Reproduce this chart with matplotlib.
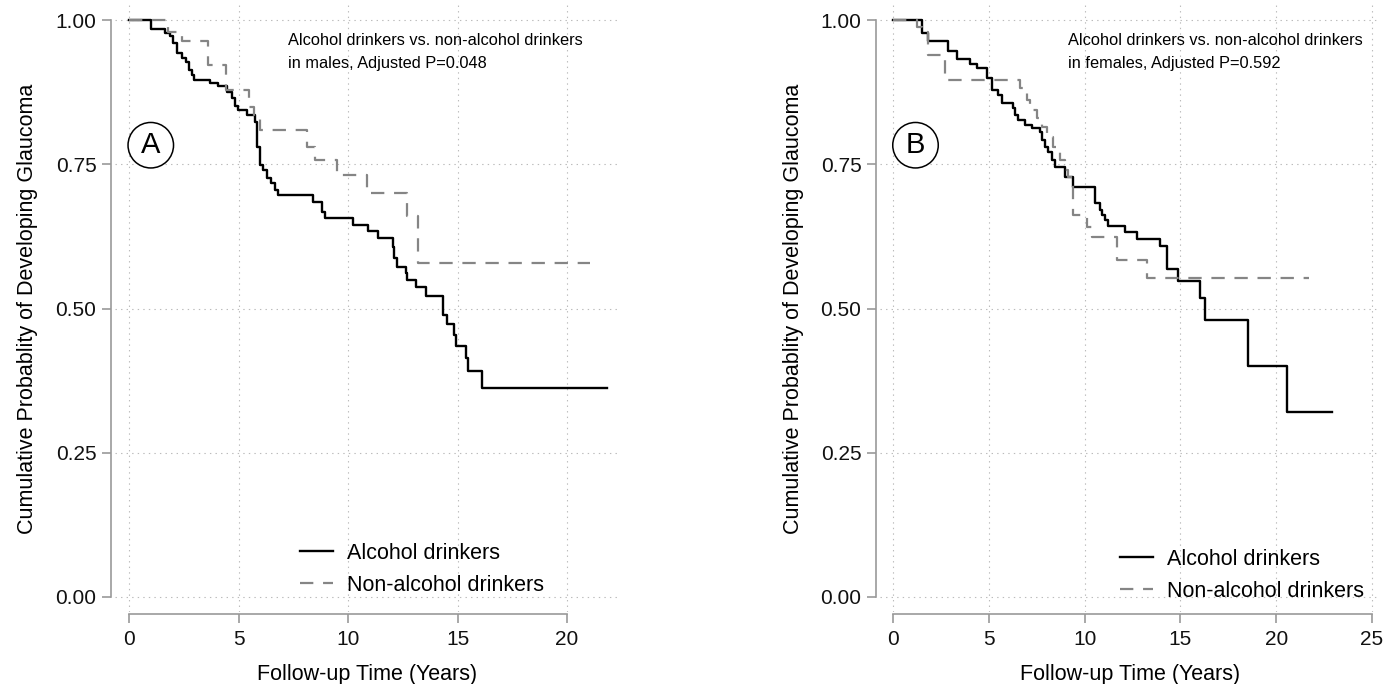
import matplotlib
matplotlib.use("Agg")
import matplotlib.pyplot as plt

plt.rcParams['font.family'] = ['Liberation Sans', 'DejaVu Sans']
plt.rcParams['lines.scale_dashes'] = False

W, H = 1386, 684

# Panel A - males
a_alc_t = [0, 0.99, 1.64, 1.87, 2.0, 2.18, 2.4, 2.6, 2.75, 2.86, 2.98, 3.7, 4.08,
           4.46, 4.69, 4.84, 4.99, 5.37, 5.75, 5.83, 5.98, 6.13, 6.29, 6.47, 6.67,
           6.82, 8.42, 8.8, 8.95, 10.24, 10.93, 11.38, 12.04, 12.1, 12.22, 12.65,
           12.7, 13.1, 13.55, 14.32, 14.5, 14.84, 14.93, 15.39, 15.46, 16.1, 21.8]
a_alc_s = [1.0, 0.984, 0.977, 0.972, 0.960, 0.942, 0.934, 0.928, 0.913, 0.905, 0.896,
           0.891, 0.886, 0.876, 0.865, 0.851, 0.844, 0.835, 0.824, 0.78, 0.749, 0.74,
           0.726, 0.717, 0.705, 0.697, 0.685, 0.668, 0.656, 0.645, 0.634, 0.622,
           0.607, 0.587, 0.572, 0.561, 0.549, 0.538, 0.522, 0.489, 0.473, 0.454,
           0.435, 0.414, 0.392, 0.363, 0.363]
a_non_t = [0, 1.8, 2.4, 3.62, 4.43, 5.5, 5.7, 6.0, 8.11, 8.5, 9.48, 10.85, 12.7, 13.2, 21.05]
a_non_s = [1.0, 0.98, 0.963, 0.922, 0.879, 0.85, 0.83, 0.809, 0.78, 0.757, 0.731,
           0.70, 0.66, 0.578, 0.578]

# Panel B - females
b_alc_t = [0, 1.5, 1.84, 2.89, 3.32, 4.02, 4.37, 4.89, 5.15, 5.5, 5.67, 6.28, 6.37,
           6.5, 6.89, 7.24, 7.67, 7.8, 7.93, 8.11, 8.28, 8.46, 8.98, 9.41, 10.54,
           10.8, 10.9, 11.07, 11.24, 12.1, 12.72, 13.94, 14.29, 14.9, 16.03, 16.3,
           18.55, 20.55, 22.9]
b_alc_s = [1.0, 0.977, 0.963, 0.946, 0.933, 0.924, 0.916, 0.899, 0.879, 0.87, 0.856,
           0.847, 0.835, 0.827, 0.818, 0.812, 0.806, 0.792, 0.78, 0.772, 0.757, 0.746,
           0.728, 0.711, 0.682, 0.671, 0.662, 0.653, 0.643, 0.633, 0.621, 0.608,
           0.568, 0.548, 0.518, 0.48, 0.40, 0.32, 0.32]
b_non_t = [0, 1.24, 1.5, 1.84, 2.71, 6.63, 6.98, 7.15, 7.5, 7.76, 8.02, 8.37, 8.72,
           8.98, 9.15, 9.41, 10.11, 10.4, 11.67, 13.24, 21.7]
b_non_s = [1.0, 0.988, 0.98, 0.939, 0.896, 0.882, 0.861, 0.844, 0.83, 0.815, 0.798,
           0.78, 0.757, 0.74, 0.728, 0.662, 0.642, 0.624, 0.584, 0.552, 0.552]

y_ticks = [0, 0.25, 0.5, 0.75, 1.0]
a_x_ticks = [0, 5, 10, 15, 20]
b_x_ticks = [0, 5, 10, 15, 20, 25]
labels = ['Alcohol drinkers', 'Non-alcohol drinkers']

GRAY = '#999999'


def draw_panel(ax, alc_t, alc_s, non_t, non_s, xticks, xlim, letter, line1, line2, leg_xy):
    ax.step(alc_t, alc_s, where='post', color='black', lw=1.7, label=labels[0])
    ax.step(non_t, non_s, where='post', color='#858585', lw=1.6,
            dashes=(9.6, 7.0), label=labels[1])
    ax.set_xlim(*xlim)
    ax.set_ylim(-0.026, 1.026)
    ax.set_xticks(xticks)
    ax.set_yticks(y_ticks)
    ax.set_yticklabels([f"{v:.2f}" for v in y_ticks])
    ax.grid(True, color='#bbbbbb', lw=0.8, linestyle=(0, (1, 3)))
    for s in ('top', 'right'):
        ax.spines[s].set_visible(False)
    ax.spines['left'].set_position(('outward', 2.9))
    ax.spines['bottom'].set_position(('outward', 1.4))
    ax.spines['left'].set_bounds(0, 1)
    ax.spines['bottom'].set_bounds(xticks[0], xticks[-1])
    for s in ('left', 'bottom'):
        ax.spines[s].set_color(GRAY)
        ax.spines[s].set_linewidth(1.2)
    ax.tick_params(direction='out', length=6.5, width=1.2, color=GRAY,
                   labelsize=15, pad=4, labelcolor='#111111')
    ax.tick_params(axis='x', pad=5)
    ax.set_xlabel('Follow-up Time (Years)', fontsize=15.5)
    ax.set_ylabel('Cumulative Probablity of Developing Glaucoma', fontsize=15.5)
    ax.xaxis.set_label_coords(0.5, -0.086)
    ax.yaxis.set_label_coords(-0.153, 0.5)

    ax.text(line1[0], 0.934, line1[1], transform=ax.transAxes, fontsize=11.8,
            va='baseline', ha='left')
    ax.text(line1[0], 0.896, line2, transform=ax.transAxes, fontsize=11.8,
            va='baseline', ha='left')
    ax.text(0.071, 0.769, letter, transform=ax.transAxes, fontsize=21,
            ha='center', va='center',
            bbox=dict(boxstyle='circle,pad=0.3', fc='white', ec='black', lw=1.1))

    ax.legend(loc='upper left', bbox_to_anchor=leg_xy, frameon=False, fontsize=15.5,
              borderpad=0, borderaxespad=0, handlelength=1.55, handletextpad=0.65,
              labelspacing=0.5)


fig = plt.figure(figsize=(W / 100, H / 100), dpi=100)
ax_a = fig.add_axes([115 / W, 72 / H, 504 / W, 607 / H])
ax_b = fig.add_axes([880 / W, 72 / H, 500 / W, 607 / H])

draw_panel(ax_a, a_alc_t, a_alc_s, a_non_t, a_non_s, a_x_ticks, (-0.64, 22.37), 'A',
           (0.343, 'Alcohol drinkers vs. non-alcohol drinkers'),
           'in males, Adjusted P=0.048', (0.367, 0.114))
draw_panel(ax_b, b_alc_t, b_alc_s, b_non_t, b_non_s, b_x_ticks, (-0.68, 25.42), 'B',
           (0.376, 'Alcohol drinkers vs. non-alcohol drinkers'),
           'in females, Adjusted P=0.592', (0.48, 0.104))

fig.savefig('out.png', dpi=100)
